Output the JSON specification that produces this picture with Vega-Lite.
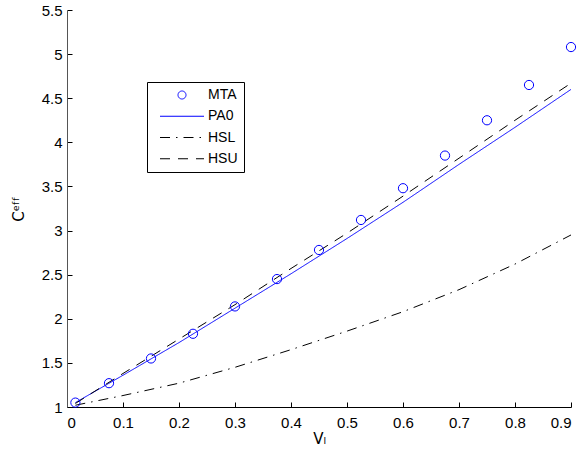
{
  "$schema": "https://vega.github.io/schema/vega-lite/v6.json",
  "width": 504,
  "height": 397,
  "autosize": {"type": "none"},
  "padding": {"left": 67, "top": 10, "right": 11, "bottom": 51},
  "background": "white",
  "config": {
    "view": {"stroke": null},
    "font": "Liberation Sans",
    "axis": {
      "grid": false,
      "labelFont": "Liberation Sans",
      "labelFontSize": 15,
      "labelColor": "#000000",
      "titleFont": "DejaVu Sans",
      "titleFontSize": 15,
      "titleFontWeight": "normal",
      "titleColor": "#000000",
      "tickColor": "#000000",
      "tickSize": -5,
      "domainWidth": 1
    }
  },
  "datasets": {
    "mta": [
      {"series": "MTA", "x": 0.015, "y": 1.05},
      {"series": "MTA", "x": 0.075, "y": 1.27},
      {"series": "MTA", "x": 0.15, "y": 1.55},
      {"series": "MTA", "x": 0.225, "y": 1.83},
      {"series": "MTA", "x": 0.3, "y": 2.14},
      {"series": "MTA", "x": 0.375, "y": 2.45},
      {"series": "MTA", "x": 0.45, "y": 2.78},
      {"series": "MTA", "x": 0.525, "y": 3.12},
      {"series": "MTA", "x": 0.6, "y": 3.48},
      {"series": "MTA", "x": 0.675, "y": 3.85},
      {"series": "MTA", "x": 0.75, "y": 4.25},
      {"series": "MTA", "x": 0.825, "y": 4.65},
      {"series": "MTA", "x": 0.9, "y": 5.08}
    ],
    "curves": [
      {"series": "PA0", "x": 0.015, "y": 1.05},
      {"series": "PA0", "x": 0.1, "y": 1.36},
      {"series": "PA0", "x": 0.2, "y": 1.73},
      {"series": "PA0", "x": 0.3, "y": 2.12},
      {"series": "PA0", "x": 0.4, "y": 2.51},
      {"series": "PA0", "x": 0.5, "y": 2.91},
      {"series": "PA0", "x": 0.6, "y": 3.32},
      {"series": "PA0", "x": 0.7, "y": 3.75},
      {"series": "PA0", "x": 0.8, "y": 4.17},
      {"series": "PA0", "x": 0.9, "y": 4.6},
      {"series": "HSL", "x": 0.015, "y": 1.02},
      {"series": "HSL", "x": 0.1, "y": 1.13},
      {"series": "HSL", "x": 0.2, "y": 1.27},
      {"series": "HSL", "x": 0.3, "y": 1.45},
      {"series": "HSL", "x": 0.4, "y": 1.65},
      {"series": "HSL", "x": 0.5, "y": 1.86},
      {"series": "HSL", "x": 0.6, "y": 2.08},
      {"series": "HSL", "x": 0.7, "y": 2.33},
      {"series": "HSL", "x": 0.8, "y": 2.62},
      {"series": "HSL", "x": 0.9, "y": 2.95},
      {"series": "HSU", "x": 0.015, "y": 1.04},
      {"series": "HSU", "x": 0.1, "y": 1.38},
      {"series": "HSU", "x": 0.2, "y": 1.77},
      {"series": "HSU", "x": 0.3, "y": 2.16},
      {"series": "HSU", "x": 0.4, "y": 2.57},
      {"series": "HSU", "x": 0.5, "y": 2.97},
      {"series": "HSU", "x": 0.6, "y": 3.39},
      {"series": "HSU", "x": 0.7, "y": 3.82},
      {"series": "HSU", "x": 0.8, "y": 4.25},
      {"series": "HSU", "x": 0.9, "y": 4.67}
    ]
  },
  "encoding": {
    "x": {
      "field": "x",
      "type": "quantitative",
      "scale": {"domain": [0, 0.9], "nice": false, "zero": false},
      "axis": {
        "title": "Vₗ",
        "values": [0, 0.1, 0.2, 0.3, 0.4, 0.5, 0.6, 0.7, 0.8, 0.9],
        "format": "~g",
        "domainColor": "#000000",
        "labelPadding": 13,
        "titlePadding": 1
      }
    },
    "y": {
      "field": "y",
      "type": "quantitative",
      "scale": {"domain": [1, 5.5], "nice": false, "zero": false},
      "axis": {
        "title": "Cᵉᶠᶠ",
        "values": [1, 1.5, 2, 2.5, 3, 3.5, 4, 4.5, 5, 5.5],
        "format": "~g",
        "domainColor": "#555555",
        "labelPadding": 10,
        "titlePadding": 15
      }
    }
  },
  "layer": [
    {
      "data": {"name": "curves"},
      "mark": {"type": "line", "strokeWidth": 1, "clip": true},
      "encoding": {
        "color": {
          "field": "series",
          "type": "nominal",
          "scale": {
            "domain": ["MTA", "PA0", "HSL", "HSU"],
            "range": ["#0000ff", "#0000ff", "#000000", "#000000"]
          },
          "legend": {
            "title": null,
            "orient": "none",
            "legendX": 80,
            "legendY": 72,
            "padding": 6,
            "strokeColor": "#000000",
            "fillColor": "#ffffff",
            "symbolSize": 64,
            "symbolStrokeWidth": 1,
            "symbolOffset": 22,
            "labelOffset": 19,
            "labelFont": "Liberation Sans",
            "labelFontSize": 14,
            "labelColor": "#000000",
            "rowPadding": 7.25,
            "symbolFillColor": "transparent",
            "encode": {"symbols": {"update": {"fill": {"value": "transparent"}}}}
          }
        },
        "strokeDash": {
          "field": "series",
          "type": "nominal",
          "scale": {
            "domain": ["MTA", "PA0", "HSL", "HSU"],
            "range": [[1, 0], [1, 0], [10, 6, 1.5, 6], [10, 8]]
          }
        }
      }
    },
    {
      "data": {"name": "mta"},
      "mark": {"type": "point", "filled": false, "size": 85, "strokeWidth": 1, "opacity": 1},
      "encoding": {
        "color": {"field": "series", "type": "nominal"},
        "shape": {
          "field": "series",
          "type": "nominal",
          "scale": {
            "domain": ["MTA", "PA0", "HSL", "HSU"],
            "range": ["circle", "M-5.5,0H5.5", "M-5.5,0H5.5", "M-5.5,0H5.5"]
          }
        }
      }
    }
  ]
}
